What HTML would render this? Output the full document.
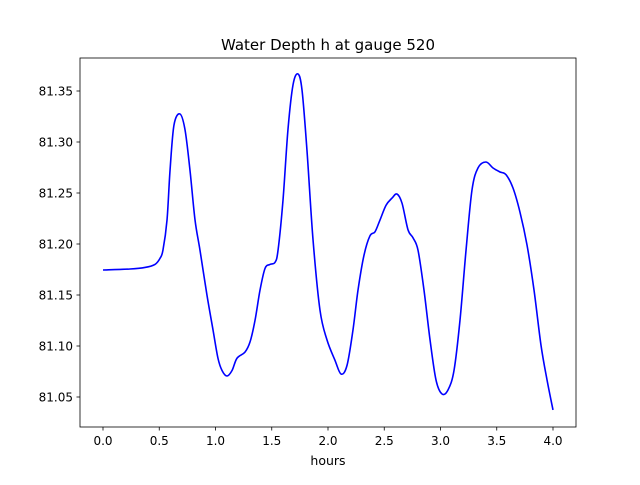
<!DOCTYPE html>
<html><head><meta charset="utf-8"><style>
body{margin:0;background:#fff}
svg text{font-family:"DejaVu Sans","Liberation Sans",sans-serif;fill:#000}
</style></head><body>
<svg id="chart" width="640" height="480" xmlns="http://www.w3.org/2000/svg">
<rect width="640" height="480" fill="#fff"/>
<text x="328" y="50" font-size="15" text-anchor="middle">Water Depth h at gauge 520</text>
<text x="328" y="465" font-size="12.5" text-anchor="middle">hours</text>
<g id="ticks"></g>
<path id="series" fill="none" stroke="#0000ff" stroke-width="1.6" stroke-linejoin="round"/>
<rect x="80" y="58" width="496" height="369" fill="none" stroke="#000" stroke-width="0.8"/>
</svg>
<script>
const hours=[0,0.24,0.373,0.462,0.507,0.533,0.569,0.596,0.631,0.684,0.729,0.773,0.818,0.862,0.924,0.978,1.022,1.058,1.102,1.147,1.191,1.262,1.307,1.351,1.396,1.44,1.484,1.529,1.556,1.6,1.644,1.689,1.733,1.769,1.813,1.867,1.929,1.991,2.062,2.116,2.169,2.222,2.267,2.32,2.373,2.418,2.462,2.516,2.569,2.613,2.658,2.711,2.756,2.8,2.853,2.907,2.96,3.013,3.067,3.12,3.173,3.227,3.28,3.333,3.404,3.467,3.529,3.582,3.644,3.707,3.769,3.831,3.893,3.947,4.0];
const depth=[81.1745,81.1755,81.177,81.180,81.186,81.194,81.2235,81.2725,81.3167,81.3275,81.312,81.2725,81.2235,81.194,81.15,81.1157,81.088,81.076,81.0706,81.076,81.088,81.094,81.104,81.125,81.155,81.176,81.18,81.182,81.194,81.243,81.312,81.356,81.3667,81.351,81.292,81.204,81.135,81.106,81.086,81.0725,81.081,81.1157,81.155,81.189,81.208,81.212,81.2235,81.238,81.245,81.249,81.24,81.214,81.206,81.194,81.155,81.106,81.0667,81.053,81.057,81.076,81.125,81.194,81.253,81.2745,81.2804,81.2745,81.2706,81.268,81.255,81.231,81.199,81.155,81.101,81.0667,81.0373];
const xTicks=[0,0.5,1,1.5,2,2.5,3,3.5,4];
const yTicks=[81.05,81.10,81.15,81.20,81.25,81.30,81.35];
const X=t=>103+(t-0)*112.5;
const Y=v=>397-(v-81.05)*1020;
const NS="http://www.w3.org/2000/svg";
const g=document.getElementById('ticks');
function mk(tag,attrs){const e=document.createElementNS(NS,tag);for(const k in attrs)e.setAttribute(k,attrs[k]);g.appendChild(e);return e;}
xTicks.forEach(t=>{
 const l=mk('line',{x1:X(t),x2:X(t),y1:427,y2:430.5,stroke:'#000','stroke-width':0.8});
 
 
 const tx=mk('text',{x:X(t),y:445,'font-size':12,'text-anchor':'middle'});
 tx.textContent=t.toFixed(1);
 
 
});
yTicks.forEach(v=>{
 const l=mk('line',{x1:76.5,x2:80,y1:Y(v),y2:Y(v),stroke:'#000','stroke-width':0.8});
 
 
 const tx=mk('text',{x:73,y:Y(v)+4.5,'font-size':12,'text-anchor':'end'});
 tx.textContent=v.toFixed(2);
 
 
});
const pts=hours.map((t,i)=>[X(t),Y(depth[i])]);
let d='M'+pts[0][0]+' '+pts[0][1];
for(let i=0;i<pts.length-1;i++){
 const p0=pts[Math.max(0,i-1)],p1=pts[i],p2=pts[i+1],p3=pts[Math.min(pts.length-1,i+2)];
 const c1=[p1[0]+(p2[0]-p0[0])/6,p1[1]+(p2[1]-p0[1])/6];
 const c2=[p2[0]-(p3[0]-p1[0])/6,p2[1]-(p3[1]-p1[1])/6];
 d+=` C${c1[0]} ${c1[1]} ${c2[0]} ${c2[1]} ${p2[0]} ${p2[1]}`;
}
document.getElementById('series').setAttribute('d',d);
</script>
</body></html>
